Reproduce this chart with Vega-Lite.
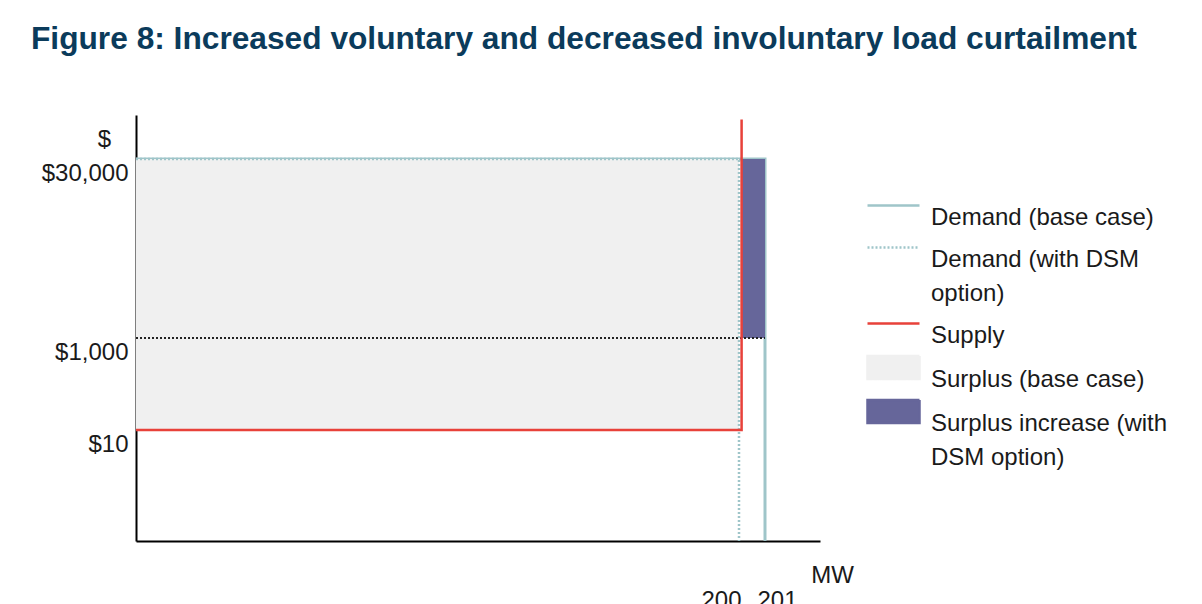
{
  "$schema": "https://vega.github.io/schema/vega-lite/v6.json",
  "width": 684,
  "height": 426,
  "autosize": {"type": "none"},
  "padding": {"left": 136, "top": 115, "right": 382, "bottom": 63},
  "background": "white",
  "config": {"view": {"stroke": null}, "font": "Liberation Sans"},
  "title": {
    "text": "Figure 8: Increased voluntary and decreased involuntary load curtailment",
    "anchor": "start",
    "frame": "group",
    "dx": -105,
    "offset": 34,
    "baseline": "alphabetic",
    "fontSize": 31.7,
    "fontWeight": "bold",
    "font": "Liberation Sans",
    "color": "#0b3b5b"
  },
  "datasets": {
    "lines": [
      {"series": "Demand (base case)", "step": 1, "mw": 0, "price": 30000},
      {"series": "Demand (base case)", "step": 2, "mw": 201, "price": 30000},
      {"series": "Demand (base case)", "step": 3, "mw": 201, "price": 0},
      {"series": "Demand (with DSM option)", "step": 1, "mw": 0, "price": 30000},
      {"series": "Demand (with DSM option)", "step": 2, "mw": 200, "price": 30000},
      {"series": "Demand (with DSM option)", "step": 3, "mw": 200, "price": 0},
      {"series": "Supply", "step": 1, "mw": 0, "price": 10},
      {"series": "Supply", "step": 2, "mw": 200.1, "price": 10},
      {"series": "Supply", "step": 3, "mw": 200.1, "price": 48000}
    ],
    "areas": [
      {"series": "Surplus (base case)", "mw": 0, "mw2": 200, "price": 10, "price2": 30000},
      {"series": "Surplus increase (with DSM option)", "mw": 200.1, "mw2": 201, "price": 1000, "price2": 30000}
    ],
    "levels": [
      {"level": "Voluntary curtailment price", "mw": 0, "mw2": 201, "price": 1000}
    ]
  },
  "layer": [
    {
      "data": {"name": "lines"},
      "transform": [{"filter": "datum.series === 'Demand (base case)'"}],
      "mark": {"type": "line", "strokeWidth": 3},
      "encoding": {
        "x": {
          "field": "mw",
          "type": "quantitative",
          "scale": {"type": "linear", "domain": [0, 200, 201, 203], "range": [0, 603, 629, 684], "nice": false, "zero": false},
          "axis": {
            "values": [200, 201],
            "title": "MW",
            "titleX": 696,
            "titleY": 41,
            "titleAlign": "center",
            "titleBaseline": "alphabetic",
            "titleFontSize": 24,
            "titleFontWeight": "normal",
            "titleColor": "#1a1a1a",
            "labelFontSize": 24,
            "labelColor": "#1a1a1a",
            "labelPadding": 47,
            "labelAlign": "center",
            "labelOffset": {"condition": {"test": "datum.value < 200.5", "value": -18}, "value": 12},
            "labelFlush": false,
            "labelOverlap": false,
            "ticks": false,
            "grid": false,
            "domainColor": "#000000",
            "domainWidth": 2
          }
        },
        "y": {
          "field": "price",
          "type": "quantitative",
          "scale": {"type": "linear", "domain": [0, 10, 1000, 30000, 50000], "range": [426, 315, 223, 44, 0], "nice": false, "zero": false},
          "axis": {
            "values": [10, 1000, 30000],
            "labelExpr": "'$' + format(datum.value, ',')",
            "title": "$",
            "titleAngle": 0,
            "titleX": -32,
            "titleY": 24,
            "titleAlign": "center",
            "titleBaseline": "middle",
            "titleFontSize": 24,
            "titleFontWeight": "normal",
            "titleColor": "#1a1a1a",
            "labelFontSize": 24,
            "labelColor": "#1a1a1a",
            "labelPadding": 8,
            "labelOffset": 14,
            "labelFlush": false,
            "labelOverlap": false,
            "ticks": false,
            "grid": false,
            "domainColor": "#000000",
            "domainWidth": 2
          }
        },
        "order": {"field": "step"},
        "color": {
          "field": "series",
          "type": "nominal",
          "scale": {
            "domain": ["Demand (base case)", "Demand (with DSM option)", "Supply", "Surplus (base case)", "Surplus increase (with DSM option)"],
            "range": ["#9fc5c9", "#9fc5c9", "#e8413a", "#f0f0f0", "#66669a"]
          },
          "legend": {
            "title": null,
            "orient": "none",
            "legendX": 730,
            "legendY": 76,
            "labelFontSize": 24,
            "labelFont": "Liberation Sans",
            "labelColor": "#1a1a1a",
            "labelLimit": 400,
            "labelOffset": 36,
            "labelBaseline": "top",
            "symbolSize": 676,
            "rowPadding": 3,
            "labelExpr": "datum.label == 'Demand (with DSM option)' ? ['Demand (with DSM', 'option)'] : datum.label == 'Surplus increase (with DSM option)' ? ['Surplus increase (with', 'DSM option)'] : datum.label",
            "encode": {
              "symbols": {
                "update": {
                  "shape": {"signal": "indexof(['Surplus (base case)', 'Surplus increase (with DSM option)'], datum.value) >= 0 ? 'M-1,-0.88H3V0.88H-1Z' : 'M-1,0H3'"},
                  "fill": {"signal": "indexof(['Surplus (base case)', 'Surplus increase (with DSM option)'], datum.value) >= 0 ? scale('color', datum.value) : 'transparent'"},
                  "stroke": {"signal": "indexof(['Surplus (base case)', 'Surplus increase (with DSM option)'], datum.value) >= 0 ? 'transparent' : scale('color', datum.value)"},
                  "strokeDash": {"signal": "datum.value === 'Demand (with DSM option)' ? [2, 2] : [1, 0]"},
                  "strokeWidth": {"value": 2.5},
                  "opacity": {"value": 1},
                  "fillOpacity": {"value": 1}
                }
              },
              "labels": {"update": {"lineHeight": {"value": 34}}}
            }
          }
        }
      }
    },
    {
      "data": {"name": "areas"},
      "mark": {"type": "rect", "opacity": 1},
      "encoding": {
        "x": {"field": "mw", "type": "quantitative"},
        "x2": {"field": "mw2"},
        "y": {"field": "price", "type": "quantitative"},
        "y2": {"field": "price2"},
        "color": {"field": "series", "type": "nominal"}
      }
    },
    {
      "data": {"name": "levels"},
      "mark": {"type": "rule", "color": "#222222", "strokeDash": [2, 2], "strokeWidth": 2},
      "encoding": {
        "x": {"field": "mw", "type": "quantitative"},
        "x2": {"field": "mw2"},
        "y": {"field": "price", "type": "quantitative"}
      }
    },
    {
      "data": {"name": "lines"},
      "transform": [{"filter": "datum.series === 'Demand (with DSM option)'"}],
      "mark": {"type": "line", "strokeWidth": 2.5, "strokeDash": [2, 2]},
      "encoding": {
        "x": {"field": "mw", "type": "quantitative"},
        "y": {"field": "price", "type": "quantitative"},
        "order": {"field": "step"},
        "color": {"field": "series", "type": "nominal"}
      }
    },
    {
      "data": {"name": "lines"},
      "transform": [{"filter": "datum.series === 'Supply'"}],
      "mark": {"type": "line", "strokeWidth": 2.5},
      "encoding": {
        "x": {"field": "mw", "type": "quantitative"},
        "y": {"field": "price", "type": "quantitative"},
        "order": {"field": "step"},
        "color": {"field": "series", "type": "nominal"}
      }
    }
  ]
}
